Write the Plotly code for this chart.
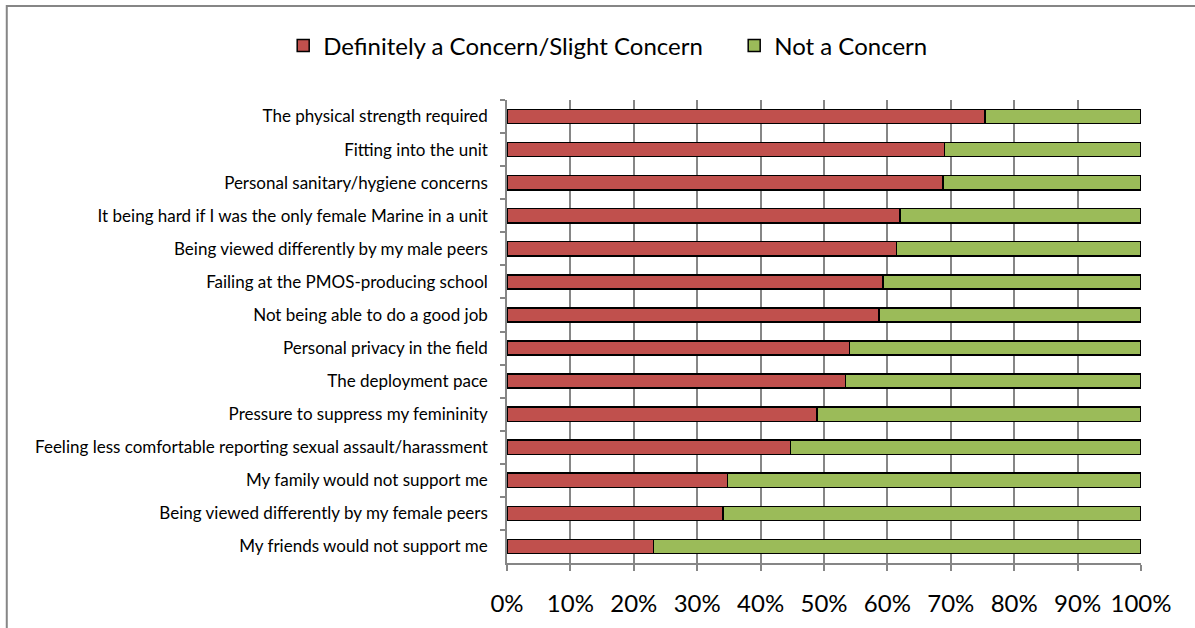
import plotly.graph_objects as go

categories = [
    "The physical strength required",
    "Fitting into the unit",
    "Personal sanitary/hygiene concerns",
    "It being hard if I was the only female Marine in a unit",
    "Being viewed differently by my male peers",
    "Failing at the PMOS-producing school",
    "Not being able to do a good job",
    "Personal privacy in the field",
    "The deployment pace",
    "Pressure to suppress my femininity",
    "Feeling less comfortable reporting sexual assault/harassment",
    "My family would not support me",
    "Being viewed differently by my female peers",
    "My friends would not support me",
]
concern = [75.4, 69.0, 68.8, 62.0, 61.4, 59.3, 58.7, 54.0, 53.4, 48.9, 44.7, 34.8, 34.1, 23.1]
not_concern = [round(100 - v, 1) for v in concern]
series_names = ["Definitely a Concern/Slight Concern", "Not a Concern"]
x_ticks = [0, 10, 20, 30, 40, 50, 60, 70, 80, 90, 100]
x_tick_labels = [f"{v}%" for v in x_ticks]

FONT = "Lato, 'Open Sans', sans-serif"
GRID = "#868686"

fig = go.Figure()
fig.add_trace(go.Bar(
    y=categories, x=concern, orientation="h", name=series_names[0],
    marker=dict(color="#C0504D", line=dict(color="#000000", width=1.5)),
))
fig.add_trace(go.Bar(
    y=categories, x=not_concern, orientation="h", name=series_names[1],
    marker=dict(color="#9BBB59", line=dict(color="#000000", width=1.5)),
))

fig.update_layout(
    width=1195, height=628,
    barmode="stack", bargap=0.57,
    paper_bgcolor="white", plot_bgcolor="white",
    margin=dict(l=507, r=54, t=100, b=65, autoexpand=False),
    font=dict(family=FONT, color="#000000"),
    legend=dict(
        orientation="h", traceorder="normal",
        xref="paper", yref="paper",
        x=-0.353, xanchor="left", y=1.1166, yanchor="middle",
        font=dict(size=24, family=FONT), itemwidth=30,
        entrywidth=406, entrywidthmode="pixels",
    ),
    showlegend=True,
    shapes=[dict(
        type="rect", xref="paper", yref="paper",
        x0=-0.789, x1=1.5, y0=-0.5, y1=1.203,
        line=dict(color=GRID, width=2), fillcolor="rgba(0,0,0,0)", layer="below",
    )],
)

fig.update_xaxes(
    range=[0, 100], tickvals=x_ticks, ticktext=x_tick_labels,
    showgrid=True, gridcolor=GRID, gridwidth=1.5,
    showline=True, linecolor=GRID, linewidth=1.5,
    ticks="outside", ticklen=6, tickcolor=GRID, tickwidth=1.5,
    tickfont=dict(size=24, family=FONT), zeroline=False, ticklabelstandoff=12,
)
fig.update_yaxes(
    autorange="reversed", type="category",
    tickson="boundaries", ticks="outside", ticklen=5, tickcolor=GRID, tickwidth=1.5,
    showline=True, linecolor=GRID, linewidth=1.5, showgrid=False,
    tickfont=dict(size=17, family=FONT), ticklabelstandoff=14,
)

fig.write_html("out.html", config={"displayModeBar": False},
               post_script="document.body.style.margin='0';")
